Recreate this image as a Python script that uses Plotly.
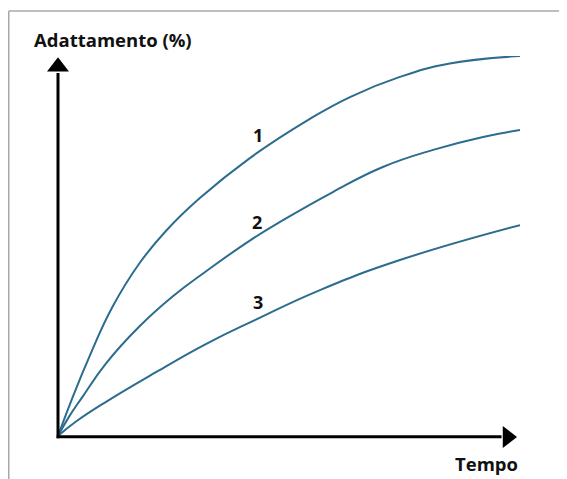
import plotly.graph_objects as go

# Time (arbitrary units) and adaptation (%)
t1 = [0, 0.32, 0.68, 1.18, 1.76, 2.34, 3.07, 4.16, 5.39, 6.32, 7.40, 8.48, 10]
y1 = [0, 10.3, 20.9, 34.0, 45.4, 54.0, 62.6, 73.2, 83.0, 89.2, 94.5, 98.0, 100]

t2 = [0, 0.24, 0.53, 1.04, 1.76, 2.48, 3.20, 4.16, 4.87, 5.95, 7.03, 8.12, 9.20, 10]
y2 = [0, 5.1, 10.3, 19.1, 28.8, 36.7, 43.3, 51.5, 56.8, 64.2, 70.8, 75.3, 78.7, 80.5]

t3 = [0, 0.39, 1.04, 2.12, 3.20, 4.26, 5.67, 7.40, 10]
y3 = [0, 3.8, 9.0, 16.8, 24.2, 30.5, 38.4, 46.3, 55.5]

series_labels = ["1", "2", "3"]
label_t = [4.33, 4.31, 4.33]
label_y = [79.2, 56.3, 35.3]

y_title = "Adattamento (%)"
x_title = "Tempo"

curve_color = "#2c6c8e"
font_family = "Open Sans, Liberation Sans, Arial, sans-serif"

# figure geometry (page body has an 8px margin)
W, H = 559, 471
L, R, T, B = 40, 47, 48, 33
pw, ph = W - L - R, H - T - B
X_RANGE = [-0.2165, 10]
Y_RANGE = [-2.632, 100]


def px(x):
    return (x - L) / pw


def py(y):
    return (H - B - y) / ph


fig = go.Figure()
for tt, yy in [(t1, y1), (t2, y2), (t3, y3)]:
    fig.add_trace(go.Scatter(x=tt, y=yy, mode="lines",
                             line=dict(color=curve_color, width=2, shape="spline", smoothing=1.3),
                             hoverinfo="skip", showlegend=False))

# axis lines
fig.add_trace(go.Scatter(x=[0, 0], y=[95.5, -0.6], mode="lines",
                         line=dict(color="black", width=3),
                         hoverinfo="skip", showlegend=False))
fig.add_trace(go.Scatter(x=[-0.03, 9.6], y=[-0.2, -0.2], mode="lines",
                         line=dict(color="black", width=3),
                         hoverinfo="skip", showlegend=False))
# arrowheads
fig.add_trace(go.Scatter(x=[0], y=[97.2], mode="markers",
                         marker=dict(symbol="triangle-up", size=19, color="black"),
                         hoverinfo="skip", showlegend=False, cliponaxis=False))
fig.add_trace(go.Scatter(x=[9.73], y=[-0.26], mode="markers",
                         marker=dict(symbol="triangle-right", size=19, color="black"),
                         hoverinfo="skip", showlegend=False, cliponaxis=False))

for lab, lx, ly in zip(series_labels, label_t, label_y):
    fig.add_annotation(x=lx, y=ly, text=lab, showarrow=False, xref="x", yref="y",
                       font=dict(family=font_family, size=18, color="#111111", weight="bold"))

fig.add_annotation(x=px(24), y=py(32), xref="paper", yref="paper", text=y_title, showarrow=False,
                   xanchor="left", yanchor="middle",
                   font=dict(family=font_family, size=18.5, color="#111111", weight="bold"))
fig.add_annotation(x=px(512), y=py(455), xref="paper", yref="paper", text=x_title, showarrow=False,
                   xanchor="right", yanchor="middle",
                   font=dict(family=font_family, size=18.5, color="#111111", weight="bold"))

# scanned frame (left and top edges)
fig.add_shape(type="line", xref="paper", yref="paper", x0=px(0.75), y0=py(3), x1=px(0.75), y1=py(480),
              line=dict(color="#a8a8a8", width=1.5))
fig.add_shape(type="line", xref="paper", yref="paper", x0=px(0.75), y0=py(3), x1=px(570), y1=py(3),
              line=dict(color="#a8a8a8", width=1.5))

fig.update_layout(
    width=W, height=H,
    margin=dict(l=L, r=R, t=T, b=B),
    paper_bgcolor="white", plot_bgcolor="white",
    xaxis=dict(range=X_RANGE, visible=False, fixedrange=True),
    yaxis=dict(range=Y_RANGE, visible=False, fixedrange=True),
)

fig.write_html("out.html")
